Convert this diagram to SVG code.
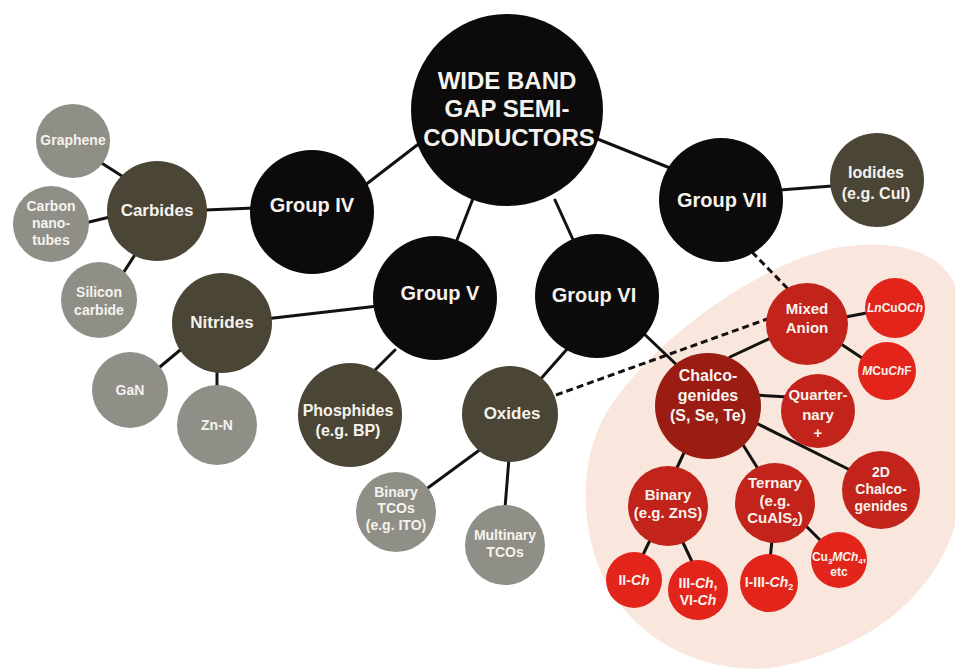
<svg xmlns="http://www.w3.org/2000/svg" width="955" height="671" viewBox="0 0 955 671">
<style>
.blk{fill:#0c0a0a}
.olv{fill:#4b4536}
.gry{fill:#8f8e87}
.dred{fill:#9b1c12}
.mred{fill:#c2231a}
.bred{fill:#e3241b}
text{font-family:"Liberation Sans",Arial,sans-serif;font-weight:bold;fill:#f6f3ee;text-anchor:middle}
.t24{font-size:24px}.t20{font-size:20px}.t17{font-size:17px}.t16{font-size:16px}.t15{font-size:15px}.t14{font-size:14px}.t12{font-size:12px}
#connectors line{stroke:#141210;stroke-width:3;stroke-linecap:round}
#connectors .dash{stroke-dasharray:7 4;stroke-linecap:butt}
</style>
<rect width="955" height="671" fill="#ffffff"/>
<path d="M 840 247 C 900 238 950 252 960 300 L 960 500 C 950 580 880 650 770 668 C 690 674 625 630 600 570 C 580 520 580 460 605 415 C 650 340 760 262 840 247 Z" fill="#f9e6dc"/>
<g id="connectors">
<line x1="360" y1="189" x2="425" y2="139"/>
<line x1="477" y1="188" x2="455" y2="245"/>
<line x1="555" y1="200" x2="580" y2="255"/>
<line x1="595" y1="138" x2="675" y2="170"/>
<line x1="780" y1="190" x2="832" y2="186"/>
<line x1="205" y1="210" x2="255" y2="208"/>
<line x1="100" y1="162" x2="125" y2="178"/>
<line x1="85" y1="223" x2="110" y2="217"/>
<line x1="120" y1="278" x2="138" y2="250"/>
<line x1="265" y1="319" x2="378" y2="306"/>
<line x1="155" y1="371" x2="185" y2="346"/>
<line x1="217" y1="368" x2="217" y2="392"/>
<line x1="365" y1="380" x2="395" y2="350"/>
<line x1="538" y1="382" x2="568" y2="348"/>
<line x1="425" y1="490" x2="485" y2="446"/>
<line x1="509" y1="458" x2="505" y2="508"/>
<line x1="640" y1="330" x2="680" y2="368"/>
<line x1="730" y1="357" x2="775" y2="336"/>
<line x1="755" y1="395" x2="788" y2="397"/>
<line x1="750" y1="420" x2="850" y2="470"/>
<line x1="690" y1="440" x2="675" y2="472"/>
<line x1="735" y1="432" x2="760" y2="472"/>
<line x1="840" y1="318" x2="872" y2="312"/>
<line x1="835" y1="340" x2="868" y2="362"/>
<line x1="655" y1="530" x2="638" y2="565"/>
<line x1="678" y1="532" x2="695" y2="568"/>
<line x1="773" y1="530" x2="770" y2="560"/>
<line x1="798" y1="518" x2="825" y2="545"/>
<line class="dash" x1="556" y1="395" x2="770" y2="318"/>
<line class="dash" x1="752" y1="252" x2="790" y2="291"/>
</g>
<g id="main"><circle class="blk" cx="507" cy="110" r="96"/>
<text class="t24" x="507" y="89">WIDE BAND</text><text class="t24" x="507" y="117">GAP SEMI-</text><text class="t24" x="509" y="146">CONDUCTORS</text></g>
<g id="group-iv"><circle class="blk" cx="312" cy="212" r="62"/><text class="t20" x="312" y="212">Group IV</text></g>
<g id="group-v"><circle class="blk" cx="435" cy="298" r="62"/><text class="t20" x="440" y="300">Group V</text></g>
<g id="group-vi"><circle class="blk" cx="597" cy="296" r="62"/><text class="t20" x="594" y="302">Group VI</text></g>
<g id="group-vii"><circle class="blk" cx="721" cy="200" r="62"/><text class="t20" x="722" y="207">Group VII</text></g>
<g id="carbides"><circle class="olv" cx="157" cy="211" r="50"/><text class="t17" x="157" y="216">Carbides</text></g>
<g id="nitrides"><circle class="olv" cx="222" cy="323" r="50"/><text class="t17" x="222" y="328">Nitrides</text></g>
<g id="phosphides"><circle class="olv" cx="350" cy="415" r="52"/><text class="t16" x="348" y="416">Phosphides</text><text class="t16" x="348" y="436">(e.g. BP)</text></g>
<g id="oxides"><circle class="olv" cx="510" cy="414" r="48"/><text class="t17" x="512" y="419">Oxides</text></g>
<g id="iodides"><circle class="olv" cx="877" cy="180" r="47"/><text class="t16" x="876" y="178">Iodides</text><text class="t16" x="876" y="199">(e.g. CuI)</text></g>
<g id="graphene"><circle class="gry" cx="73" cy="141" r="37"/><text class="t14" x="73" y="145">Graphene</text></g>
<g id="nanotubes"><circle class="gry" cx="51" cy="224" r="38"/><text class="t14" x="51" y="211">Carbon</text><text class="t14" x="51" y="228">nano-</text><text class="t14" x="51" y="245">tubes</text></g>
<g id="silicon-carbide"><circle class="gry" cx="99" cy="300" r="38"/><text class="t14" x="99" y="297">Silicon</text><text class="t14" x="99" y="315">carbide</text></g>
<g id="gan"><circle class="gry" cx="130" cy="390" r="38"/><text class="t14" x="130" y="395">GaN</text></g>
<g id="zn-n"><circle class="gry" cx="217" cy="425" r="40"/><text class="t14" x="217" y="430">Zn-N</text></g>
<g id="binary-tco"><circle class="gry" cx="396" cy="512" r="40"/><text class="t14" x="396" y="497">Binary</text><text class="t14" x="396" y="513">TCOs</text><text class="t14" x="396" y="530">(e.g. ITO)</text></g>
<g id="multinary-tco"><circle class="gry" cx="505" cy="545" r="40"/><text class="t14" x="505" y="540">Multinary</text><text class="t14" x="505" y="557">TCOs</text></g>
<g id="chalcogenides"><circle class="dred" cx="708" cy="406" r="53"/><text class="t16" x="708" y="381">Chalco-</text><text class="t16" x="708" y="401">genides</text><text class="t16" x="708" y="421">(S, Se, Te)</text></g>
<g id="mixed-anion"><circle class="mred" cx="807" cy="324" r="41"/><text class="t15" x="807" y="314">Mixed</text><text class="t15" x="807" y="333">Anion</text></g>
<g id="lncuoch"><circle class="bred" cx="895" cy="308" r="30"/><text class="t12" x="895" y="312"><tspan font-style="italic">Ln</tspan>CuO<tspan font-style="italic">Ch</tspan></text></g>
<g id="mcuchf"><circle class="bred" cx="887" cy="371" r="29"/><text class="t12" x="887" y="375"><tspan font-style="italic">M</tspan>Cu<tspan font-style="italic">Ch</tspan>F</text></g>
<g id="quaternary"><circle class="mred" cx="818" cy="411" r="37"/><text class="t15" x="818" y="400">Quarter-</text><text class="t15" x="818" y="420">nary</text><text class="t15" x="818" y="438">+</text></g>
<g id="chalcogenides-2d"><circle class="mred" cx="881" cy="490" r="39"/><text class="t14" x="881" y="477">2D</text><text class="t14" x="881" y="494">Chalco-</text><text class="t14" x="881" y="511">genides</text></g>
<g id="binary"><circle class="mred" cx="668" cy="506" r="40"/><text class="t15" x="668" y="500">Binary</text><text class="t15" x="668" y="518">(e.g. ZnS)</text></g>
<g id="ternary"><circle class="mred" cx="775" cy="503" r="40"/><text class="t15" x="775" y="488">Ternary</text><text class="t15" x="775" y="506">(e.g.</text><text class="t15" x="775" y="523">CuAlS<tspan font-size="10" dy="3">2</tspan><tspan dy="-3">)</tspan></text></g>
<g id="ii-ch"><circle class="bred" cx="634" cy="580" r="28"/><text class="t14" x="634" y="585">II-<tspan font-style="italic">Ch</tspan></text></g>
<g id="iii-ch"><circle class="bred" cx="698" cy="590" r="30"/><text class="t14" x="698" y="588">III-<tspan font-style="italic">Ch</tspan>,</text><text class="t14" x="698" y="605">VI-<tspan font-style="italic">Ch</tspan></text></g>
<g id="i-iii-ch2"><circle class="bred" cx="769" cy="583" r="29"/><text class="t14" x="769" y="587">I-III-<tspan font-style="italic">Ch</tspan><tspan font-size="9" dy="3">2</tspan></text></g>
<g id="cu3mch4"><circle class="bred" cx="839" cy="560" r="28"/><text class="t12" x="839" y="561">Cu<tspan font-size="8" dy="3">3</tspan><tspan dy="-3" font-style="italic">MCh</tspan><tspan font-size="8" dy="3">4</tspan><tspan dy="-3">,</tspan></text><text class="t12" x="839" y="576">etc</text></g>
</svg>
